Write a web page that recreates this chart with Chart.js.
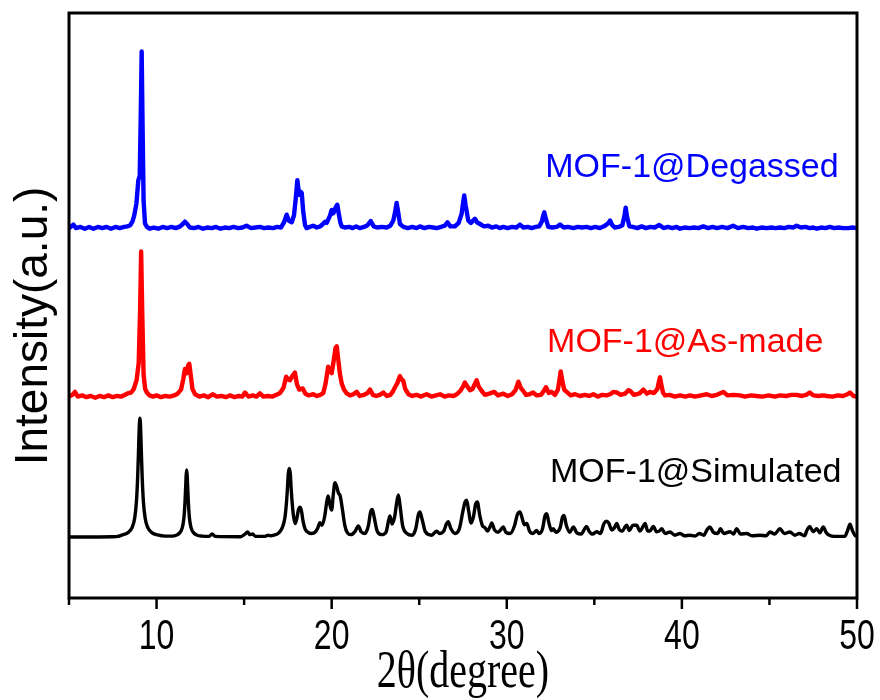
<!DOCTYPE html>
<html>
<head>
<meta charset="utf-8">
<title>MOF-1 PXRD</title>
<script src="https://cdn.jsdelivr.net/npm/chart.js@4.4.1/dist/chart.umd.min.js"></script>
<style>
  html, body { margin: 0; padding: 0; background: #fff; }
  canvas { display: block; }
</style>
</head>
<body>
<canvas id="pxrd" width="880" height="700"></canvas>
<script>
// Powder X-ray diffraction patterns: [2θ (deg), relative intensity] pairs
const seriesNames = ['MOF-1@Degassed', 'MOF-1@As-made', 'MOF-1@Simulated'];
const seriesOffsets = [52.5, 23.7, 0];   // vertical stacking of the patterns (a.u.)
const xTickLabels = [10, 20, 30, 40, 50];
const xAxisTitle = '2θ(degree)';
const yAxisTitle = 'Intensity(a.u.)';

const degassedPattern = [
  [5.0,0.3],[5.1,0.5],[5.25,0.9],[5.4,0.3],[5.65,0.5],[5.9,0.2],[6.15,0.5],[6.4,0.2],[6.65,0.5],[6.9,0.3],
  [7.15,0.5],[7.4,0.2],[7.65,0.5],[7.9,0.3],[8.15,0.5],[8.35,0.6],[8.5,0.8],[8.62,1.4],[8.72,2.4],[8.85,4.5],
  [8.96,8.5],[9.04,9.2],[9.1,20],[9.15,30.5],[9.2,18],[9.26,5],[9.34,1.1],[9.45,0.5],[9.6,0.2],[9.85,0.4],
  [10.1,0.2],[10.35,0.5],[10.6,0.3],[10.85,0.5],[11.1,0.3],[11.35,0.6],[11.5,1.0],[11.62,1.4],[11.75,1.0],[11.9,0.4],
  [12.15,0.3],[12.4,0.5],[12.65,0.2],[12.9,0.4],[13.15,0.3],[13.4,0.5],[13.65,0.2],[13.9,0.4],[14.15,0.3],[14.4,0.5],
  [14.65,0.3],[14.9,0.4],[15.14,0.7],[15.4,0.3],[15.65,0.4],[15.9,0.5],[16.15,0.3],[16.4,0.4],[16.65,0.3],[16.9,0.5],
  [17.1,0.4],[17.28,1.3],[17.43,2.6],[17.55,1.6],[17.72,1.3],[17.85,2.5],[17.97,6.0],[18.04,8.5],[18.1,7.0],[18.16,6.0],
  [18.23,6.5],[18.29,6.3],[18.38,3.0],[18.48,0.8],[18.57,0.3],[18.75,0.5],[18.95,0.7],[19.15,0.4],[19.35,0.6],[19.5,1.0],
  [19.62,1.4],[19.72,1.2],[19.81,1.8],[19.9,2.4],[20.0,3.4],[20.07,2.8],[20.13,3.0],[20.22,3.8],[20.32,4.3],[20.42,2.5],
  [20.5,1.2],[20.57,0.6],[20.75,0.4],[21.0,0.5],[21.2,0.3],[21.4,0.6],[21.6,0.3],[21.85,0.5],[22.05,0.8],[22.23,1.5],
  [22.4,0.6],[22.6,0.4],[22.85,0.5],[23.14,0.4],[23.35,0.7],[23.52,1.6],[23.62,3.0],[23.71,4.6],[23.8,3.0],[23.9,1.0],
  [24.1,0.5],[24.35,0.3],[24.6,0.5],[24.85,0.3],[25.04,0.6],[25.3,0.3],[25.55,0.5],[25.8,0.4],[26.0,0.3],[26.25,0.5],
  [26.45,0.7],[26.61,1.3],[26.78,0.6],[27.04,0.6],[27.25,1.2],[27.42,2.7],[27.5,4.5],[27.57,5.9],[27.65,4.2],[27.8,1.6],
  [27.95,1.2],[28.05,1.5],[28.18,1.9],[28.3,1.3],[28.47,1.0],[28.7,0.6],[28.94,0.7],[29.15,0.4],[29.4,0.6],[29.6,0.3],
  [29.8,0.5],[30.05,0.3],[30.3,0.5],[30.55,0.4],[30.75,0.9],[30.95,0.4],[31.2,0.5],[31.42,0.3],[31.65,0.5],[31.85,0.6],
  [32.0,1.4],[32.08,2.4],[32.14,3.0],[32.22,2.0],[32.37,0.5],[32.6,0.4],[32.85,0.5],[33.04,0.9],[33.25,0.4],[33.5,0.5],
  [33.8,0.3],[34.05,0.5],[34.3,0.4],[34.56,0.5],[34.8,0.3],[35.05,0.5],[35.32,0.3],[35.55,0.6],[35.78,1.1],[35.9,1.6],
  [36.02,0.8],[36.18,0.4],[36.4,0.5],[36.6,0.8],[36.72,2.4],[36.79,3.8],[36.87,2.2],[37.0,0.6],[37.2,0.5],[37.45,0.3],
  [37.7,0.6],[37.95,0.3],[38.2,0.5],[38.45,0.4],[38.71,0.85],[38.95,0.3],[39.2,0.5],[39.45,0.3],[39.7,0.5],[39.89,0.2],
  [40.15,0.4],[40.45,0.3],[40.7,0.4],[40.95,0.3],[41.22,0.6],[41.5,0.3],[41.75,0.5],[42.0,0.3],[42.3,0.5],[42.6,0.3],
  [42.93,0.7],[43.2,0.3],[43.5,0.5],[43.8,0.3],[44.05,0.4],[44.27,0.2],[44.55,0.4],[44.85,0.3],[45.1,0.4],[45.35,0.3],
  [45.6,0.4],[45.85,0.3],[46.1,0.5],[46.35,0.4],[46.55,0.7],[46.8,0.4],[47.05,0.5],[47.3,0.3],[47.5,0.4],[47.7,0.2],
  [47.95,0.4],[48.2,0.3],[48.45,0.5],[48.7,0.3],[48.95,0.4],[49.2,0.3],[49.5,0.3],[49.75,0.4],[50.0,0.3]
];

const asMadePattern = [
  [5.0,0.3],[5.2,0.6],[5.34,1.1],[5.5,0.3],[5.75,0.5],[6.0,0.2],[6.25,0.4],[6.5,0.1],[6.75,0.4],[7.0,0.2],
  [7.25,0.5],[7.5,0.2],[7.75,0.4],[8.0,0.3],[8.2,0.6],[8.4,0.9],[8.55,1.0],[8.7,1.6],[8.86,3.1],[8.98,6],
  [9.06,15],[9.12,25.1],[9.18,15],[9.26,4],[9.35,1.6],[9.45,1.0],[9.6,0.5],[9.8,0.3],[10.0,0.5],[10.25,0.2],
  [10.5,0.4],[10.75,0.3],[11.0,0.5],[11.2,0.8],[11.4,1.5],[11.52,3.2],[11.62,5.0],[11.72,4.3],[11.8,5.6],[11.87,5.9],
  [11.95,4.0],[12.05,1.6],[12.2,0.7],[12.45,0.3],[12.7,0.5],[12.95,0.2],[13.2,0.7],[13.45,0.3],[13.7,0.4],[13.95,0.2],
  [14.2,0.5],[14.45,0.2],[14.7,0.4],[14.9,0.3],[15.05,1.0],[15.25,0.3],[15.5,0.5],[15.7,0.3],[15.9,0.85],[16.1,0.3],
  [16.35,0.4],[16.6,0.3],[16.85,0.6],[17.05,0.9],[17.25,1.8],[17.4,3.7],[17.52,3.2],[17.62,3.1],[17.75,3.8],[17.9,4.4],
  [18.02,2.4],[18.15,1.5],[18.35,1.7],[18.5,0.8],[18.7,0.5],[18.95,0.7],[19.15,0.4],[19.35,0.6],[19.52,0.9],[19.65,2.5],
  [19.8,5.4],[19.9,4.6],[20.0,4.3],[20.12,6.5],[20.22,8.6],[20.29,8.9],[20.38,6.5],[20.48,4.0],[20.57,2.6],[20.7,1.5],
  [20.86,0.85],[21.05,0.5],[21.24,0.7],[21.43,1.1],[21.6,0.4],[21.85,0.6],[22.05,0.9],[22.19,1.5],[22.35,0.6],[22.55,0.4],
  [22.75,0.6],[22.95,1.0],[23.15,0.4],[23.35,0.6],[23.5,1.2],[23.62,1.9],[23.75,2.6],[23.9,3.8],[24.0,3.2],[24.09,3.0],
  [24.2,1.6],[24.38,0.7],[24.6,0.4],[24.85,0.6],[25.1,0.3],[25.42,0.7],[25.7,0.3],[25.95,0.5],[26.19,0.7],[26.45,0.3],
  [26.7,0.5],[26.95,0.4],[27.15,0.7],[27.35,1.3],[27.5,2.0],[27.61,2.7],[27.75,2.0],[27.9,1.4],[28.05,1.6],[28.18,2.5],
  [28.28,3.1],[28.4,2.0],[28.57,1.25],[28.75,0.6],[29.0,0.8],[29.28,1.1],[29.5,0.5],[29.8,0.8],[30.05,0.4],[30.3,0.7],
  [30.5,1.4],[30.66,2.85],[30.8,1.8],[30.94,1.25],[31.1,0.6],[31.3,0.7],[31.5,1.0],[31.7,0.5],[31.95,0.6],[32.1,1.2],
  [32.24,1.9],[32.4,0.9],[32.56,1.1],[32.75,0.6],[32.92,1.5],[33.0,3.0],[33.08,4.6],[33.17,3.0],[33.28,1.5],[33.42,1.1],
  [33.65,0.5],[33.9,0.7],[34.18,0.4],[34.45,0.6],[34.7,0.4],[34.94,0.7],[35.2,0.3],[35.45,0.6],[35.7,0.5],[35.9,0.7],
  [36.08,1.1],[36.28,1.0],[36.5,0.6],[36.75,0.8],[36.94,1.4],[37.04,1.3],[37.25,0.6],[37.42,0.7],[37.6,0.9],[37.8,1.5],
  [38.0,0.8],[38.18,1.1],[38.4,0.9],[38.6,1.6],[38.7,3.0],[38.75,3.6],[38.82,2.4],[38.92,1.0],[39.04,0.5],[39.3,0.6],
  [39.6,0.3],[39.9,0.5],[40.2,0.3],[40.46,0.5],[40.75,0.3],[41.1,0.5],[41.42,0.7],[41.7,0.4],[42.0,0.6],[42.37,1.1],
  [42.6,0.5],[42.95,0.6],[43.32,0.5],[43.6,0.3],[43.95,0.5],[44.27,0.4],[44.6,0.3],[44.95,0.5],[45.3,0.3],[45.6,0.5],
  [45.95,0.4],[46.25,0.6],[46.55,0.6],[46.85,0.4],[47.1,0.6],[47.3,1.0],[47.5,0.5],[47.8,0.4],[48.05,0.5],[48.27,0.4],
  [48.6,0.3],[48.9,0.5],[49.2,0.4],[49.45,0.7],[49.6,1.0],[49.8,0.4],[50.0,0.3]
];

const simulatedPattern = [
  [5,0],[7.5,0.05],[7.8,0.1],[8.05,0.35],[8.35,0.7],[8.6,1.6],[8.75,3.2],[8.85,6.0],[8.92,10.15],[8.97,14.7],
  [9.01,18.6],[9.05,20.3],[9.09,18.6],[9.13,14.7],[9.18,10.15],[9.25,6.0],[9.35,3.2],[9.5,1.6],[9.75,0.7],[10.05,0.35],
  [10.5,0.15],[10.9,0.15],[11.12,0.3],[11.32,0.7],[11.47,1.6],[11.56,3.2],[11.62,5.7],[11.66,8.4],[11.69,10.5],[11.72,11.45],
  [11.75,10.5],[11.78,8.4],[11.82,5.7],[11.88,3.2],[11.97,1.6],[12.12,0.7],[12.32,0.3],[12.6,0.15],[13.0,0.1],[13.17,0.5],
  [13.35,0.1],[14.8,0.05],[15.05,0.5],[15.2,0.85],[15.33,0.4],[15.49,0.5],[15.65,0.1],[16.2,0.1],[16.37,0.3],[16.5,0.2],
  [16.7,0.3],[16.98,0.7],[17.18,1.6],[17.33,3.3],[17.42,5.9],[17.48,8.6],[17.52,10.7],[17.58,11.7],[17.64,10.7],[17.68,8.6],
  [17.74,6.0],[17.82,3.6],[17.92,2.3],[18.02,3.3],[18.1,4.6],[18.19,5.1],[18.28,4.4],[18.36,2.8],[18.48,1.4],[18.65,0.8],
  [18.85,0.6],[19.05,0.8],[19.2,1.5],[19.33,2.45],[19.45,2.0],[19.6,3.5],[19.72,6],[19.8,7.0],[19.9,5.5],[20.0,4.6],
  [20.1,7.5],[20.19,9.3],[20.3,8.5],[20.4,7.4],[20.47,7.2],[20.6,5],[20.75,2],[20.9,0.7],[21.1,0.4],[21.35,1.0],
  [21.52,1.9],[21.68,0.9],[21.9,0.6],[22.1,2],[22.22,4.2],[22.32,4.7],[22.42,3.5],[22.6,1.0],[22.85,0.4],[23.1,0.8],
  [23.25,2.8],[23.33,3.6],[23.45,2.2],[23.6,3.5],[23.72,6.0],[23.81,7.2],[23.9,5.5],[24.05,2.0],[24.3,0.6],[24.6,0.3],
  [24.8,1.4],[24.95,3.8],[25.04,4.3],[25.15,3.2],[25.35,0.9],[25.7,0.3],[25.9,0.8],[26.0,1.0],[26.15,0.6],[26.4,1.0],
  [26.55,2.2],[26.66,2.6],[26.8,1.5],[27.05,0.6],[27.3,1.5],[27.5,4.5],[27.62,6.0],[27.71,6.3],[27.82,4.5],[27.96,2.4],
  [28.1,3.5],[28.22,5.6],[28.32,6.0],[28.45,3.8],[28.6,2.0],[28.75,1.6],[28.9,1.0],[29.05,1.8],[29.14,2.4],[29.3,1.2],
  [29.5,0.8],[29.7,1.4],[29.8,1.7],[29.95,0.8],[30.2,0.6],[30.45,2.0],[30.6,3.8],[30.75,4.3],[30.9,3.0],[31.0,2.1],
  [31.14,2.3],[31.3,1.0],[31.5,0.6],[31.7,1.1],[31.85,0.6],[32.05,1.5],[32.18,3.6],[32.28,4.0],[32.4,2.5],[32.55,1.1],
  [32.66,1.4],[32.8,0.8],[33.05,1.6],[33.18,3.4],[33.27,3.7],[33.4,2.0],[33.6,0.8],[33.8,1.7],[34.0,0.7],[34.25,0.5],
  [34.45,1.4],[34.56,1.8],[34.7,1.0],[34.9,0.5],[35.13,0.9],[35.35,0.6],[35.55,2.3],[35.7,2.7],[35.82,2.4],[36.0,1.2],
  [36.15,1.6],[36.28,2.3],[36.42,1.3],[36.6,1.0],[36.75,1.7],[36.85,2.0],[37.0,1.1],[37.2,2.0],[37.42,2.0],[37.6,1.0],
  [37.78,1.8],[37.9,2.3],[38.05,1.0],[38.2,1.1],[38.37,1.8],[38.55,0.9],[38.7,1.0],[38.85,1.4],[39.05,0.6],[39.32,0.85],
  [39.6,0.3],[39.9,0.6],[40.15,0.2],[40.46,0.3],[40.75,0.15],[41.0,0.6],[41.25,0.3],[41.45,1.3],[41.6,1.7],[41.8,0.8],
  [42.05,0.6],[42.2,1.4],[42.4,0.6],[42.75,0.9],[42.95,0.5],[43.13,1.4],[43.35,0.5],[43.7,0.6],[44.0,0.2],[44.46,0.3],
  [44.8,0.2],[45.03,0.85],[45.3,0.5],[45.6,1.4],[45.85,0.6],[46.17,0.85],[46.45,0.3],[46.7,0.6],[47.0,0.2],[47.15,1.2],
  [47.3,1.8],[47.5,0.9],[47.7,1.4],[47.88,0.7],[48.07,1.7],[48.25,0.7],[48.5,0.2],[48.9,0.1],[49.3,0.1],[49.45,1.0],
  [49.6,2.2],[49.75,1.0],[49.9,0.2],[50,0.1]
];

const patterns = [degassedPattern, asMadePattern, simulatedPattern];
const lineColors = ['#0000ff', '#ff0000', '#000000'];
const lineWidths = [4.4, 4.4, 3.4];

// Box frame around the plot, outward tick marks and the 2θ tick labels / title
const framePlugin = {
  id: 'frame',
  afterDatasetsDraw(chart, args, opts) {
    const { ctx, chartArea: a, scales: { x } } = chart;
    ctx.save();
    ctx.strokeStyle = '#000';
    ctx.lineWidth = 3;
    ctx.strokeRect(a.left, a.top, a.right - a.left, a.bottom - a.top);
    ctx.lineWidth = 2.5;
    x.ticks.forEach(t => {
      const px = x.getPixelForValue(t.value);
      const len = t.value % 10 === 0 ? 11 : 7;
      ctx.beginPath();
      ctx.moveTo(px, a.bottom);
      ctx.lineTo(px, a.bottom + len);
      ctx.stroke();
    });

    // tick labels and axis title use a tall, condensed letterform
    ctx.fillStyle = '#000';
    ctx.textAlign = 'center';
    ctx.textBaseline = 'middle';
    ctx.font = opts.tickFont;
    x.ticks.forEach(t => {
      if (!xTickLabels.includes(t.value)) return;
      ctx.save();
      ctx.translate(x.getPixelForValue(t.value), a.bottom + opts.tickOffset);
      ctx.scale(1, opts.stretch);
      ctx.fillText(String(t.value), 0, 0);
      ctx.restore();
    });
    ctx.font = opts.titleFont;
    ctx.save();
    ctx.translate((a.left + a.right) / 2, a.bottom + opts.titleOffset);
    ctx.scale(1, opts.stretch);
    ctx.fillText(xAxisTitle, 0, 0);
    ctx.restore();
    ctx.restore();
  }
};

// Names written next to each pattern, anchored in data coordinates
const seriesLabelPlugin = {
  id: 'seriesLabels',
  afterDatasetsDraw(chart, args, opts) {
    const { ctx, scales: { x, y } } = chart;
    ctx.save();
    ctx.font = opts.font;
    ctx.textAlign = 'left';
    ctx.textBaseline = 'middle';
    chart.data.datasets.forEach((ds, i) => {
      const [ax, ay] = opts.anchors[i];
      ctx.fillStyle = ds.borderColor;
      ctx.fillText(ds.label, x.getPixelForValue(ax), y.getPixelForValue(ay));
    });
    ctx.restore();
  }
};

// Rotated intensity axis title
const yTitlePlugin = {
  id: 'yTitle',
  afterDraw(chart, args, opts) {
    const { ctx } = chart;
    ctx.save();
    ctx.translate(opts.x, opts.y);
    ctx.rotate(-Math.PI / 2);
    ctx.font = opts.font;
    ctx.fillStyle = '#000';
    ctx.textAlign = 'center';
    ctx.textBaseline = 'alphabetic';
    ctx.fillText(yAxisTitle, 0, 0);
    ctx.restore();
  }
};

new Chart(document.getElementById('pxrd'), {
  type: 'line',
  data: {
    datasets: patterns.map((pts, i) => ({
      label: seriesNames[i],
      data: pts.map(([tt, inten]) => ({ x: tt, y: inten + seriesOffsets[i] })),
      borderColor: lineColors[i],
      borderWidth: lineWidths[i],
      pointRadius: 0,
      fill: false,
      tension: 0,
      cubicInterpolationMode: i === 2 ? 'monotone' : 'default',
      borderJoinStyle: 'round',
      borderCapStyle: 'round'
    }))
  },
  options: {
    responsive: false,
    animation: false,
    layout: { padding: { top: 13, right: 23, left: 69, bottom: 0 } },
    plugins: {
      legend: { display: false },
      tooltip: { enabled: false },
      frame: {
        tickFont: '32px "Liberation Sans", Arial, sans-serif',
        titleFont: '40px "Liberation Serif", "Times New Roman", serif',
        stretch: 1.3,
        tickOffset: 40,
        titleOffset: 75
      },
      seriesLabels: {
        font: '34px "Liberation Sans", Arial, sans-serif',
        anchors: [[32.2, 63.1], [32.3, 33.3], [32.47, 11.0]]
      },
      yTitle: {
        x: 47, y: 326,
        font: '46px "Liberation Sans", Arial, sans-serif'
      }
    },
    scales: {
      x: {
        type: 'linear',
        min: 5,
        max: 50,
        grid: { display: false },
        border: { display: false },
        afterFit(scale) { scale.height = 102; },
        ticks: {
          stepSize: 5,
          autoSkip: false,
          maxRotation: 0,
          display: false
        }
      },
      y: {
        type: 'linear',
        display: false,
        min: -10.43,
        max: 89.57
      }
    }
  },
  plugins: [framePlugin, seriesLabelPlugin, yTitlePlugin]
});
</script>
</body>
</html>
